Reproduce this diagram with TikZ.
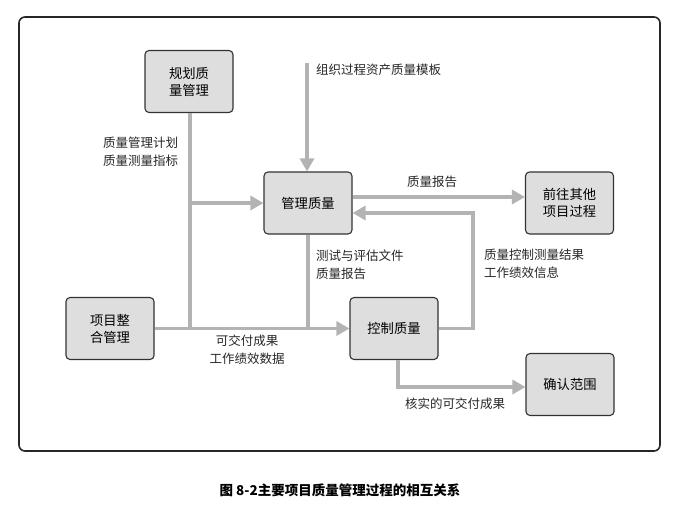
\documentclass[tikz,border=0pt]{standalone}
\usepackage{fontspec}
\setmainfont{Noto Sans CJK SC}
\usetikzlibrary{arrows.meta}
\definecolor{boxfill}{HTML}{DEDEDE}
\definecolor{boxline}{HTML}{333333}
\definecolor{conn}{HTML}{B3B3B3}
\begin{document}
\begin{tikzpicture}[x=1pt,y=-1pt,
  proc/.style={draw=boxline,line width=1.1pt,fill=boxfill,rounded corners=4pt,
    minimum width=88pt,minimum height=62pt,align=center,
    font=\fontsize{13.3}{17}\selectfont,inner sep=0pt},
  lab/.style={font=\fontsize{12.5}{18}\selectfont,inner sep=0pt,text=black!85},
  con/.style={draw=conn,line width=3.6pt},
  arr/.style={con,-{Triangle[length=13pt,width=14pt]}}]
\useasboundingbox (0,0) rectangle (682,506);
\draw[line width=1.6pt,draw=black!85,rounded corners=6pt] (19,17) rectangle (660,451);

\node[proc] (gh) at (189,81.5) {规划质\\量管理};
\node[proc] (gl) at (308,203) {管理质量};
\node[proc] (qw) at (569.5,203) {前往其他\\项目过程};
\node[proc] (ih) at (110,328.5) {项目整\\合管理};
\node[proc] (kz) at (394,328.5) {控制质量};
\node[proc] (qr) at (570,384.5) {确认范围};

\coordinate (org) at (307,63);
\coordinate (ret) at (473,328.5);

\draw[con] ([xshift=1pt]gh.south) -- ([xshift=1pt]gh.south |- ih.east);
\draw[arr] ([xshift=1pt]gh.south |- gl.west) -- (gl.west);
\draw[arr] (org) -- (org |- gl.north);
\draw[arr] ([yshift=6pt]gl.east) -- ([yshift=6pt]gl.east -| qw.west);
\draw[arr] (kz.east) -- (ret) |- ([yshift=-10pt]gl.east);
\draw[con] (gl.south) -- (gl.south |- ih.east);
\draw[arr] (ih.east) -- (kz.west);
\draw[arr] ([xshift=4pt]kz.south) |- ([yshift=-2.5pt]qr.west);

\node[lab,align=left,anchor=north west] (l1) at (103,137) {质量管理计划\\质量测量指标};
\node[lab,anchor=west] (l2) at (316,70) {组织过程资产质量模板};
\node[lab] (l3) at (432,182) {质量报告};
\node[lab,align=left,anchor=north west] (l4) at (316,250) {测试与评估文件\\质量报告};
\node[lab,align=left,anchor=north west] (l5) at (484,249) {质量控制测量结果\\工作绩效信息};
\node[lab,align=center,anchor=north] (l6) at (247,335) {可交付成果\\工作绩效数据};
\node[lab] (l7) at (455,404) {核实的可交付成果};
\node[font=\fontsize{13.5}{15}\selectfont\bfseries,inner sep=0pt] (cap) at (340,490) {图 8-2主要项目质量管理过程的相互关系};
\end{tikzpicture}
\end{document}
